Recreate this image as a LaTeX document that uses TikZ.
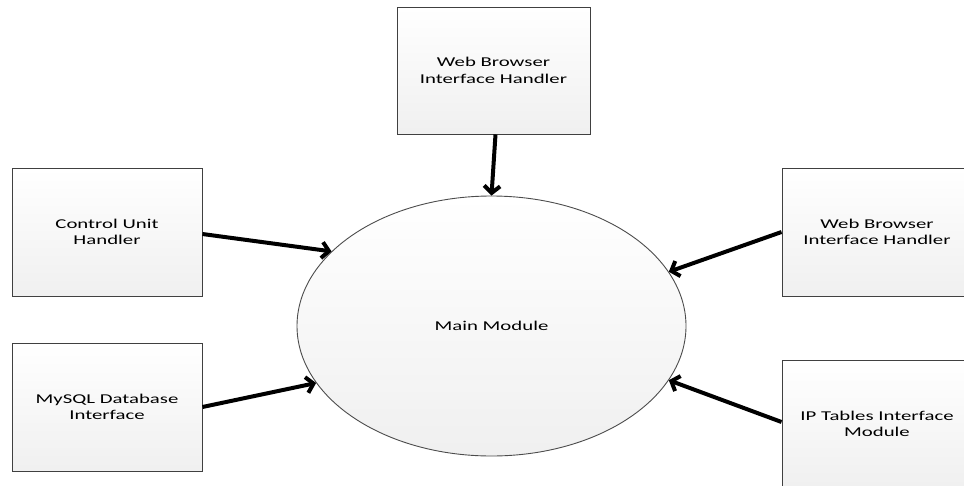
\documentclass[tikz,border=0pt]{standalone}
\usepackage{fontspec}
\setmainfont{Carlito}[FakeStretch=1.54]
\usetikzlibrary{arrows.meta,shapes.geometric}
\tikzset{
  modbox/.style={draw=black!75, line width=0.9pt, top color=white, bottom color=black!6,
    minimum width=190pt, minimum height=128pt, align=center, inner sep=0pt,
    font=\fontsize{13.5}{16.5}\selectfont},
  mainell/.style={ellipse, draw=black!70, line width=0.9pt, top color=white, bottom color=black!6,
    minimum width=389pt, minimum height=260pt, inner sep=0pt,
    font=\fontsize{13.5}{16.5}\selectfont},
  conn/.style={line width=4pt, -{Straight Barb[length=7pt,width=16pt]}}
}
\begin{document}
\begin{tikzpicture}[x=1pt,y=-1pt]
\useasboundingbox (0,0) rectangle (964,485);
\node[mainell] (main) at (491.5,326) {Main Module};
\node[modbox, minimum width=193pt, minimum height=127pt] (top) at (493.5,70.5) {Web Browser\\Interface Handler};
\node[modbox] (cu) at (107,232) {Control Unit\\Handler};
\node[modbox] (my) at (107,407) {MySQL Database\\Interface};
\node[modbox] (wb) at (877,232) {Web Browser\\Interface Handler};
\node[modbox] (ip) at (877,424) {IP Tables Interface\\Module};
\draw[conn] ([xshift=2pt]top.south) -- (main.north);
\draw[conn] ([yshift=-2pt]cu.east) -- (main.155.6);
\draw[conn] (my.east) -- (main.198.8);
\draw[conn] (wb.west) -- (main.17.8);
\draw[conn] ([yshift=2pt]ip.west) -- (main.-17.9);
\end{tikzpicture}
\end{document}
